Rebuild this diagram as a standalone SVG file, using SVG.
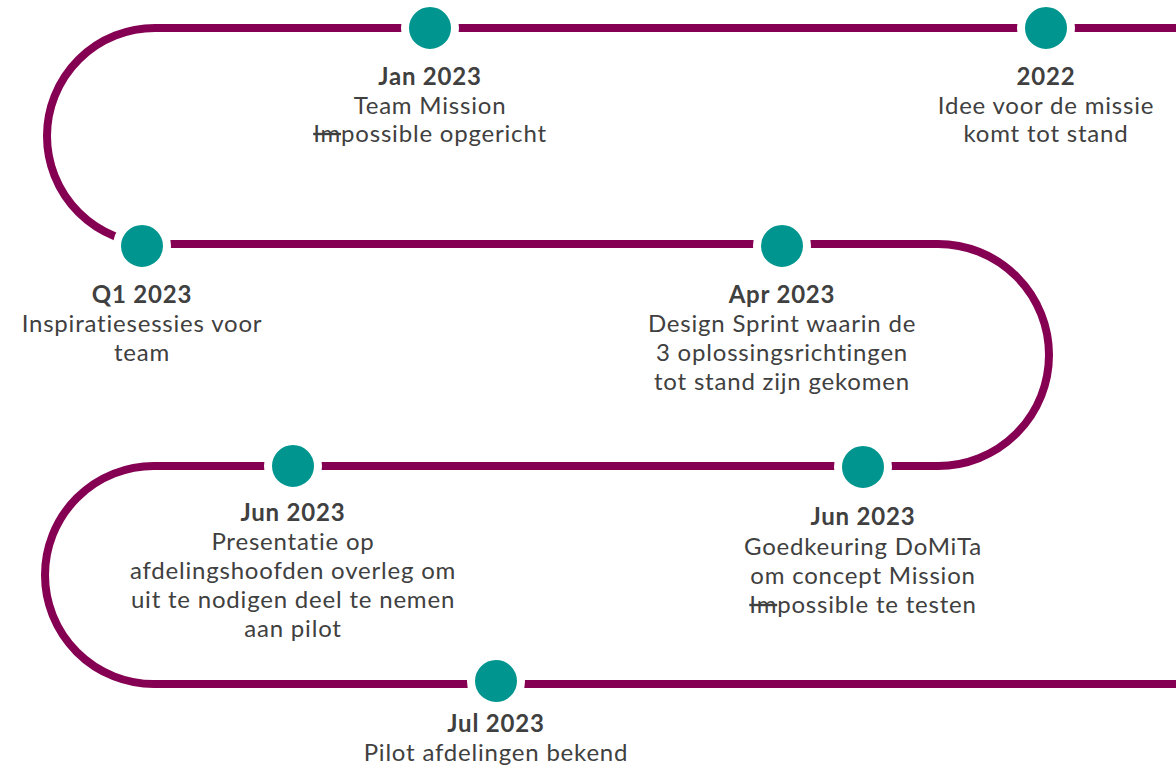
<svg xmlns="http://www.w3.org/2000/svg" width="1176" height="766" viewBox="0 0 1176 766">
<style>
.track{fill:none;stroke:#850052;stroke-width:8}
.dot{fill:#00968f;stroke:#fff;stroke-width:8}
text{font-family:"Lato","Liberation Sans",sans-serif;font-size:24px;letter-spacing:0.8px;fill:#404040;text-anchor:middle}
.t{font-weight:bold}
.s{text-decoration:line-through}
</style>
<rect width="1176" height="766" fill="#fff"/>
<g id="connectors">
<path class="track" d="M1176 28 H155 A108 108 0 0 0 155 244 H938 A110 110 0 0 1 938 466 H154 A109 109 0 0 0 154 684 H1176"/>
</g>
<g id="n2022"><circle class="dot" cx="1046" cy="28" r="25"/><text x="1046" y="85" class="t">2022</text><text x="1046" y="114">Idee voor de missie</text><text x="1046" y="142">komt tot stand</text></g>
<g id="njan"><circle class="dot" cx="430" cy="28" r="25"/><text x="430" y="85" class="t">Jan 2023</text><text x="430" y="114">Team Mission</text><text x="430" y="142"><tspan class="s">Im</tspan>possible opgericht</text></g>
<g id="nq1"><circle class="dot" cx="142" cy="246" r="25"/><text x="142" y="303" class="t">Q1 2023</text><text x="142" y="332">Inspiratiesessies voor</text><text x="142" y="361">team</text></g>
<g id="napr"><circle class="dot" cx="782" cy="246" r="25"/><text x="782" y="303" class="t">Apr 2023</text><text x="782" y="332">Design Sprint waarin de</text><text x="782" y="361">3 oplossingsrichtingen</text><text x="782" y="390">tot stand zijn gekomen</text></g>
<g id="njun2"><circle class="dot" cx="863" cy="467" r="25"/><text x="863" y="525" class="t">Jun 2023</text><text x="863" y="555">Goedkeuring DoMiTa</text><text x="863" y="584">om concept Mission</text><text x="863" y="613"><tspan class="s">Im</tspan>possible te testen</text></g>
<g id="njun1"><circle class="dot" cx="293" cy="466" r="25"/><text x="293" y="521" class="t">Jun 2023</text><text x="293" y="550">Presentatie op</text><text x="293" y="579">afdelingshoofden overleg om</text><text x="293" y="608">uit te nodigen deel te nemen</text><text x="293" y="637">aan pilot</text></g>
<g id="njul"><circle class="dot" cx="496" cy="681" r="25"/><text x="496" y="732" class="t">Jul 2023</text><text x="496" y="761">Pilot afdelingen bekend</text></g>
</svg>
